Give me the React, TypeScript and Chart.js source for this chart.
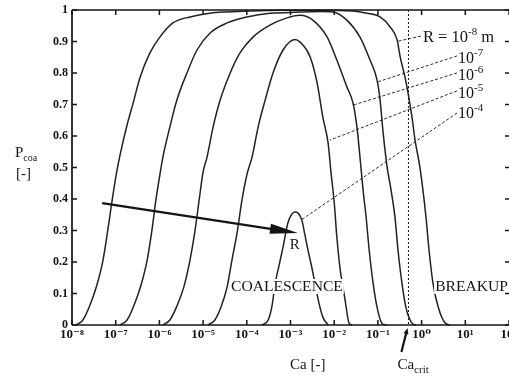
import { useEffect, useRef } from 'react';
import { Chart, registerables } from 'chart.js';

Chart.register(...registerables);

// ---- data (x = log10 Ca, y = P_coa) ----
const logCaR8 = [-7.91, -7.75, -7.59, -7.43, -7.29, -7.18, -7.08, -6.99, -6.90, -6.74, -6.60, -6.44, -6.22, -5.99, -5.69, -5.30, -4.84, -4.45, -3.93, -3.20, -2.30, -1.59, -1.25, -0.95, -0.72, -0.56, -0.49, -0.38, -0.31, -0.22, -0.15, -0.04, 0.03, 0.10, 0.17, 0.26, 0.38, 0.54, 0.65];
const pR8 = [0, 0.016, 0.063, 0.127, 0.206, 0.302, 0.397, 0.476, 0.540, 0.635, 0.705, 0.787, 0.863, 0.914, 0.959, 0.978, 0.990, 0.994, 0.997, 0.999, 0.999, 0.997, 0.990, 0.978, 0.946, 0.905, 0.851, 0.787, 0.737, 0.660, 0.587, 0.502, 0.429, 0.343, 0.238, 0.133, 0.057, 0.006, 0];

const logCaR7 = [-6.90, -6.74, -6.58, -6.42, -6.28, -6.17, -6.08, -5.99, -5.92, -5.76, -5.60, -5.37, -5.14, -4.84, -4.45, -4.00, -3.47, -3.01, -2.32, -2.03, -1.71, -1.41, -1.18, -1.02, -0.95, -0.88, -0.79, -0.70, -0.61, -0.54, -0.45, -0.36, -0.22, -0.13];
const pR7 = [0, 0.016, 0.063, 0.127, 0.206, 0.302, 0.397, 0.476, 0.533, 0.629, 0.714, 0.800, 0.873, 0.927, 0.959, 0.978, 0.990, 0.992, 0.995, 0.994, 0.968, 0.914, 0.841, 0.778, 0.714, 0.610, 0.502, 0.429, 0.343, 0.238, 0.133, 0.057, 0.006, 0];

const logCaR6 = [-5.92, -5.76, -5.60, -5.44, -5.30, -5.19, -5.09, -5.00, -4.91, -4.77, -4.61, -4.38, -4.16, -3.86, -3.47, -3.08, -2.78, -2.49, -2.16, -1.94, -1.71, -1.57, -1.48, -1.41, -1.34, -1.27, -1.20, -1.11, -1.02, -0.91, -0.81];
const pR6 = [0, 0.016, 0.060, 0.121, 0.206, 0.295, 0.397, 0.486, 0.533, 0.629, 0.714, 0.800, 0.863, 0.914, 0.952, 0.975, 0.983, 0.968, 0.914, 0.841, 0.756, 0.705, 0.629, 0.533, 0.429, 0.343, 0.238, 0.133, 0.057, 0.006, 0];

const logCaR5 = [-4.89, -4.73, -4.59, -4.45, -4.34, -4.22, -4.11, -4.00, -3.88, -3.74, -3.58, -3.40, -3.17, -2.90, -2.78, -2.55, -2.39, -2.26, -2.14, -2.07, -2.00, -1.94, -1.87, -1.75, -1.66, -1.59];
const pR5 = [0, 0.016, 0.057, 0.121, 0.206, 0.295, 0.397, 0.476, 0.533, 0.629, 0.714, 0.800, 0.873, 0.906, 0.898, 0.851, 0.768, 0.660, 0.578, 0.480, 0.390, 0.280, 0.184, 0.079, 0.006, 0];

const logCaR4 = [-3.65, -3.51, -3.42, -3.35, -3.26, -3.17, -3.06, -2.97, -2.90, -2.83, -2.74, -2.67, -2.60, -2.51, -2.44, -2.35, -2.26, -2.14];
const pR4 = [0, 0.016, 0.063, 0.133, 0.190, 0.248, 0.324, 0.352, 0.359, 0.356, 0.333, 0.286, 0.238, 0.181, 0.133, 0.070, 0.025, 0];

const radiusExponents = [-8, -7, -6, -5, -4];
const xTickExponents = [-8, -7, -6, -5, -4, -3, -2, -1, 0, 1, 2];
const yTickValues = [0, 0.1, 0.2, 0.3, 0.4, 0.5, 0.6, 0.7, 0.8, 0.9, 1];
const yTickLabels = ['0', '0.1', '0.2', '0.3', '0.4', '0.5', '0.6', '0.7', '0.8', '0.9', '1'];
const caCrit = 0.5;

// ---- styling ----
const FONT = "'Liberation Serif', 'DejaVu Serif', serif";
const INK = '#141414';
const CURVE = '#222222';

const SUP: Record<string, string> = {
  '-': '⁻', '0': '⁰', '1': '¹', '2': '²', '3': '³', '4': '⁴',
  '5': '⁵', '6': '⁶', '7': '⁷', '8': '⁸', '9': '⁹',
};
const supNum = (n: number) => String(n).split('').map((c) => SUP[c] ?? c).join('');

function rich(ctx: CanvasRenderingContext2D, x: number, y: number, parts: [string, number, number][]) {
  let cx = x;
  for (const [t, size, dy] of parts) {
    ctx.font = `${size}px ${FONT}`;
    ctx.fillText(t, cx, y + dy);
    cx += ctx.measureText(t).width;
  }
  return cx - x;
}

function line(ctx: CanvasRenderingContext2D, x1: number, y1: number, x2: number, y2: number) {
  ctx.beginPath();
  ctx.moveTo(x1, y1);
  ctx.lineTo(x2, y2);
  ctx.stroke();
}

function arrow(ctx: CanvasRenderingContext2D, x1: number, y1: number, x2: number, y2: number, w: number, headLen: number, headHalf: number) {
  const dx = x2 - x1, dy = y2 - y1;
  const len = Math.hypot(dx, dy);
  const ux = dx / len, uy = dy / len;
  const bx = x2 - ux * headLen, by = y2 - uy * headLen;
  ctx.lineWidth = w;
  line(ctx, x1, y1, bx + ux * 2, by + uy * 2);
  ctx.beginPath();
  ctx.moveTo(x2, y2);
  ctx.lineTo(bx - uy * headHalf, by + ux * headHalf);
  ctx.lineTo(bx + uy * headHalf, by - ux * headHalf);
  ctx.closePath();
  ctx.fill();
}

const decor = {
  id: 'decor',
  afterDraw(chart: any) {
    const { ctx, chartArea: a, scales } = chart;
    const xs = scales.x, ys = scales.y;
    const px = (e: number) => xs.getPixelForValue(Math.pow(10, e));
    const py = (p: number) => ys.getPixelForValue(p);
    ctx.save();
    ctx.fillStyle = INK;
    ctx.strokeStyle = INK;
    ctx.textBaseline = 'alphabetic';
    ctx.textAlign = 'left';

    // region labels with white background
    const regions: [string, number][] = [['COALESCENCE', -4.36], ['BREAKUP', 0.31]];
    ctx.font = `15.6px ${FONT}`;
    for (const [t, e] of regions) {
      const x = px(e), y = py(0.108);
      const w = ctx.measureText(t).width;
      ctx.fillStyle = '#ffffff';
      ctx.fillRect(x - 1, y - 12, w + 2, 15);
      ctx.fillStyle = INK;
      ctx.fillText(t, x, y);
    }

    // frame
    ctx.lineWidth = 1.7;
    line(ctx, a.left, a.top, a.left, a.bottom);
    line(ctx, a.left, a.bottom, a.right, a.bottom);
    line(ctx, a.left, a.top, a.right, a.top);
    ctx.lineWidth = 1.5;
    for (const e of xTickExponents) {
      const x = px(e);
      line(ctx, x, a.bottom, x, a.bottom - 5);
      line(ctx, x, a.top, x, a.top + 5);
    }
    for (const v of yTickValues) {
      const y = py(v);
      line(ctx, a.left, y, a.left + 5, y);
      line(ctx, a.right, y, a.right - 4, y);
    }

    // critical capillary number (dotted)
    const cx = xs.getPixelForValue(caCrit);
    ctx.lineWidth = 1;
    ctx.setLineDash([2, 2]);
    line(ctx, cx, a.top, cx, a.bottom);

    // leader lines for radius labels
    const textX = px(0.833);
    const leaders: { base: number; dy: number; te: number; tp: number }[] = [
      { base: 0.832, dy: -7, te: -1.02, tp: 0.771 },
      { base: 0.778, dy: -7, te: -1.57, tp: 0.698 },
      { base: 0.721, dy: -7, te: -2.10, tp: 0.587 },
      { base: 0.657, dy: -5, te: -2.76, tp: 0.333 },
    ];
    ctx.setLineDash([3, 2]);
    ctx.lineWidth = 0.9;
    const rX = px(0.03), rBase = py(0.898);
    line(ctx, rX - 2, rBase - 6, px(-0.57), py(0.90));
    leaders.forEach((l) => {
      line(ctx, textX - 1, py(l.base) + l.dy, px(l.te), py(l.tp));
    });
    ctx.setLineDash([]);

    // radius labels
    rich(ctx, rX, rBase, [['R = 10', 16.5, 0], ['-' + Math.abs(radiusExponents[0]), 11, -7], [' m', 16.5, 0]]);
    radiusExponents.slice(1).forEach((e, i) => {
      rich(ctx, textX, py(leaders[i].base), [['10', 16, 0], ['-' + Math.abs(e), 11, -7]]);
    });

    // radius arrow
    arrow(ctx, px(-7.31), py(0.387), px(-2.83), py(0.292), 2.4, 28, 5);
    ctx.font = `15px ${FONT}`;
    ctx.textAlign = 'center';
    ctx.fillText('R', px(-2.90), py(0.241));

    // axis titles
    ctx.textAlign = 'left';
    ctx.font = `15px ${FONT}`;
    ctx.fillText('Ca [-]', a.left + 218, 369);
    rich(ctx, cx - 11, 369, [['Ca', 15, 0], ['crit', 11, 4]]);
    arrow(ctx, cx - 7, 352, cx - 1, 328, 2.2, 6, 2.5);

    rich(ctx, 15, 157, [['P', 15, 0], ['coa', 10, 4]]);
    ctx.font = `15px ${FONT}`;
    ctx.fillText('[-]', 16, 178);
    ctx.restore();
  },
};

export default function App() {
  const ref = useRef<HTMLCanvasElement>(null);
  useEffect(() => {
    const canvas = ref.current;
    if (!canvas) return;
    const series = [
      [logCaR8, pR8],
      [logCaR7, pR7],
      [logCaR6, pR6],
      [logCaR5, pR5],
      [logCaR4, pR4],
    ];
    const chart = new Chart(canvas, {
      type: 'scatter',
      data: {
        datasets: series.map(([ex, p], k) => ({
          label: 'R = 1e' + radiusExponents[k] + ' m',
          data: ex.map((e, i) => ({ x: Math.pow(10, e), y: p[i] })),
          showLine: true,
          borderColor: CURVE,
          borderWidth: 1.5,
          pointRadius: 0,
          cubicInterpolationMode: 'monotone',
          fill: false,
          clip: 3,
        })),
      },
      options: {
        animation: false,
        responsive: false,
        devicePixelRatio: 1,
        events: [],
        layout: { padding: { top: 10, right: 0, left: 0, bottom: 0 } },
        plugins: { legend: { display: false }, tooltip: { enabled: false } },
        scales: {
          x: {
            type: 'logarithmic',
            min: 1e-8,
            max: 1e2,
            grid: { display: false, drawTicks: false },
            border: { display: false },
            afterBuildTicks: (s: any) => {
              s.ticks = xTickExponents.map((e) => ({ value: Math.pow(10, e) }));
            },
            afterFit: (s: any) => {
              s.height = 53;
              s.paddingLeft = 0;
              s.paddingRight = 0;
            },
            ticks: {
              autoSkip: false,
              maxRotation: 0,
              minRotation: 0,
              padding: 2,
              color: INK,
              font: { family: FONT, size: 13, weight: 'bold' },
              callback: (v: any) => '10' + supNum(Math.round(Math.log10(Number(v)))),
            },
          },
          y: {
            min: 0,
            max: 1,
            grid: { display: false, drawTicks: false },
            border: { display: false },
            afterBuildTicks: (s: any) => {
              s.ticks = yTickValues.map((v) => ({ value: v }));
            },
            afterFit: (s: any) => {
              s.width = 72;
              s.paddingTop = 0;
              s.paddingBottom = 0;
            },
            ticks: {
              autoSkip: false,
              padding: 4,
              color: INK,
              font: { family: FONT, size: 12, weight: 'bold' },
              callback: (_v: any, i: number) => yTickLabels[i],
            },
          },
        },
      },
      plugins: [decor],
    } as any);
    return () => chart.destroy();
  }, []);
  return (
    <div style={{ position: 'absolute', left: 0, top: 0, width: 509, height: 378, background: '#ffffff', overflow: 'hidden' }}>
      <canvas ref={ref} width={509} height={378} style={{ display: 'block', width: 509, height: 378 }} />
    </div>
  );
}
